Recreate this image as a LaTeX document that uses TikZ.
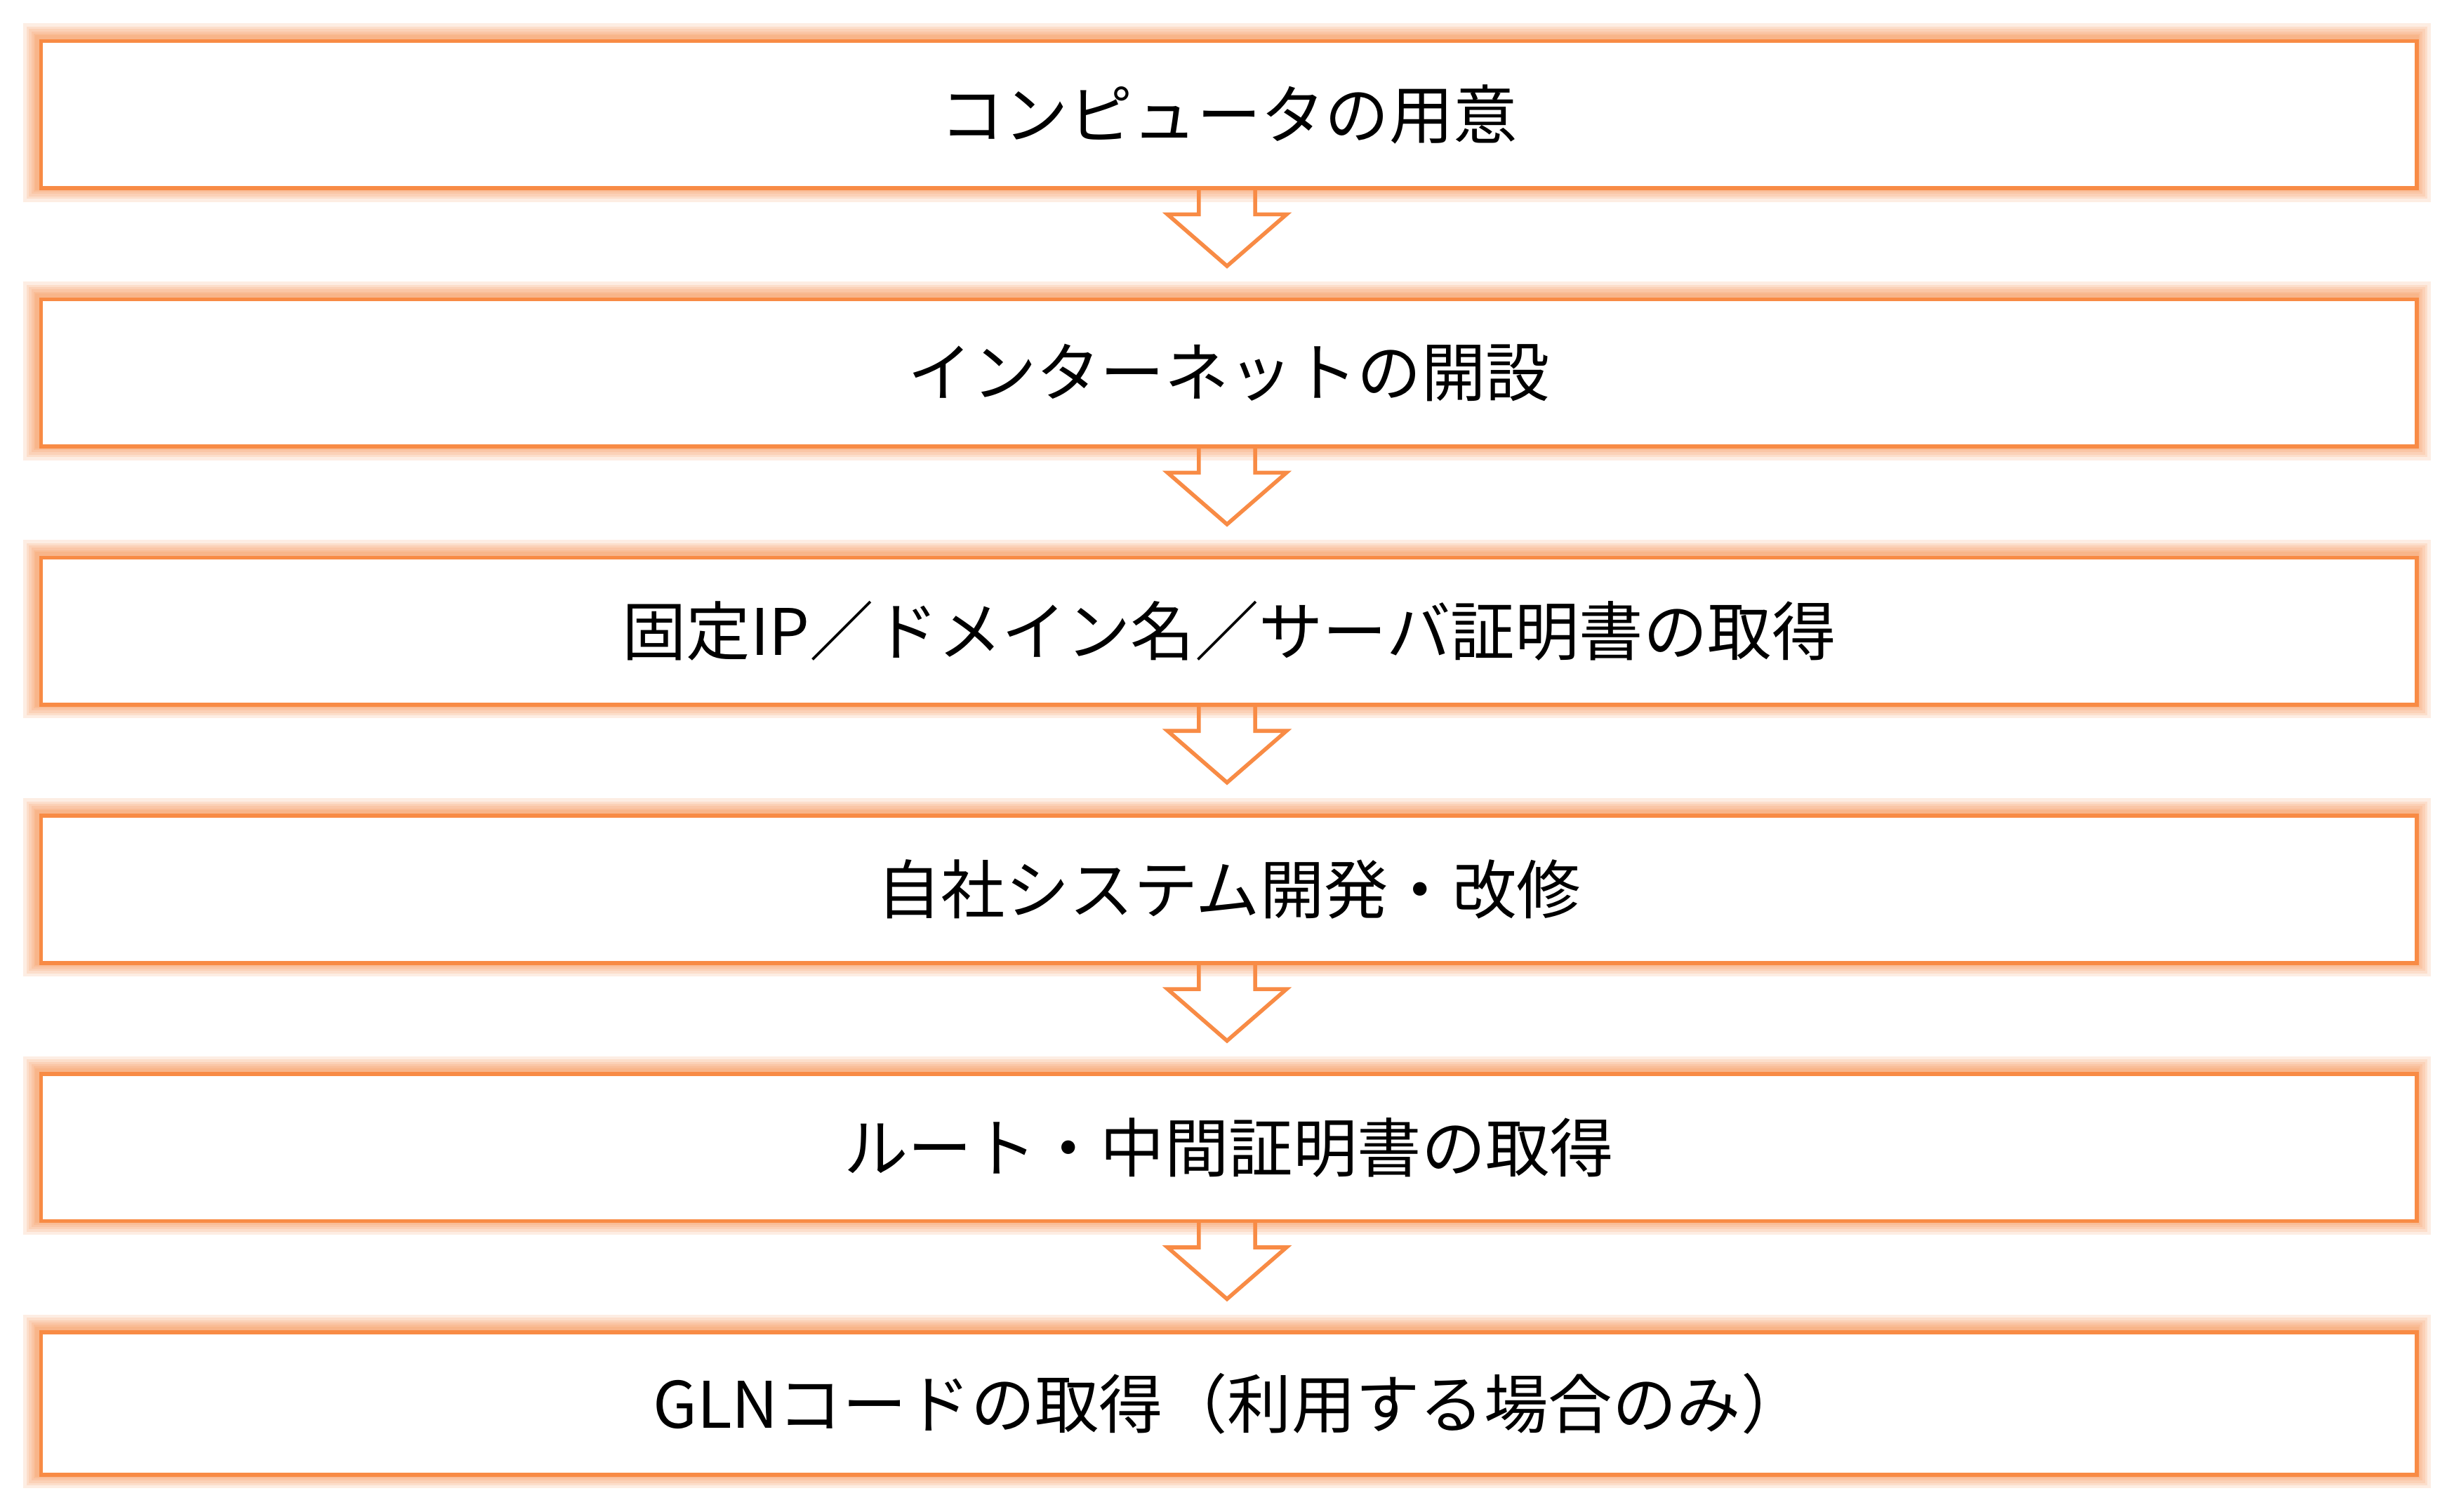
\documentclass[tikz,border=0pt]{standalone}
\usepackage{fontspec}
\newfontfamily\jp{Noto Sans CJK JP}
\definecolor{org}{HTML}{F88B45}
\begin{document}
\begin{tikzpicture}[x=1pt,y=-1pt,
  arr/.style={draw=org,fill=white,line width=2.5pt,line join=miter}]
\useasboundingbox (0,0) rectangle (1568,966);
\fill[white] (0,0) rectangle (1568,966);
\def\tops{25/119/a/{コンピュータの用意},190/284/b/{インターネットの開設},355/449/c/{固定IP／ドメイン名／サーバ証明書の取得},520/614/d/{自社システム開発・改修},685/779/e/{ルート・中間証明書の取得},850/941/f/{GLNコードの取得（利用する場合のみ）}}
% arrows
\foreach \t/\b/\n/\s [count=\i] in \tops {
  \ifnum\i<6
  \draw[arr] (766,\b-10) -- (766,\b+18) -- (746,\b+18) -- (784,\b+51) -- (822,\b+18) -- (802,\b+18) -- (802,\b-10);
  \fi
}
% glow
\foreach \t/\b/\n/\s in \tops {
  \foreach \w in {20,16,13,10,7,5} {
    \draw[org,opacity=0.15,line width=\w pt] (25,\t) rectangle (1543,\b);
  }
}
\foreach \t/\b/\n/\s in \tops {
  \node[draw=org,fill=white,line width=2.5pt,minimum width=1518pt,minimum height={\b-\t},inner sep=0pt,anchor=north west,font=\jp\fontsize{41}{45}\selectfont] (\n) at (25,\t) {\s};
}
\end{tikzpicture}
\end{document}
